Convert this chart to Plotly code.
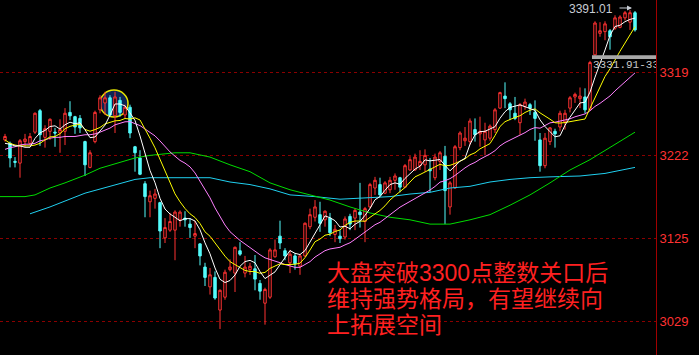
import plotly.graph_objects as go
import pandas as pd

# ---------------- data (prices) ----------------
opens = [3240, 3236, 3215, 3213, 3238, 3236, 3249, 3274, 3243, 3250,
         3249, 3248, 3250, 3272, 3267, 3265, 3238, 3208, 3238, 3275,
         3283, 3289, 3268, 3286, 3269, 3278, 3232, 3219, 3189, 3168,
         3172, 3167, 3126, 3135, 3135, 3147, 3149, 3142, 3128, 3119,
         3092, 3069, 3080, 3042, 3057, 3089, 3085, 3111, 3085, 3089,
         3090, 3073, 3050, 3057, 3104, 3128, 3111, 3097, 3105, 3093,
         3105, 3139, 3150, 3153, 3147, 3149, 3130, 3128, 3127, 3151,
         3149, 3156, 3145, 3162, 3184, 3188, 3178, 3182, 3193, 3196,
         3185, 3205, 3205, 3210, 3211, 3206, 3196, 3215, 3221, 3162,
         3184, 3231, 3239, 3238, 3252, 3247, 3240, 3242, 3252, 3277,
         3291, 3282, 3271, 3260, 3279, 3281, 3272, 3240, 3210, 3238,
         3250, 3255, 3261, 3277, 3290, 3288, 3290, 3275, 3339, 3364,
         3366, 3367, 3370, 3371, 3382, 3377, 3388]
highs = [3247, 3238, 3220, 3241, 3247, 3248, 3272, 3276, 3257, 3265,
         3254, 3264, 3277, 3285, 3268, 3269, 3239, 3228, 3274, 3292,
         3296, 3292, 3296, 3290, 3281, 3281, 3233, 3228, 3192, 3181,
         3183, 3168, 3149, 3155, 3158, 3158, 3157, 3149, 3146, 3120,
         3097, 3091, 3087, 3066, 3089, 3101, 3116, 3121, 3105, 3097,
         3106, 3077, 3068, 3114, 3124, 3146, 3114, 3112, 3108, 3107,
         3144, 3160, 3170, 3168, 3158, 3155, 3141, 3135, 3151, 3154,
         3160, 3190, 3162, 3190, 3197, 3196, 3192, 3197, 3201, 3197,
         3212, 3221, 3224, 3228, 3229, 3219, 3224, 3227, 3233, 3192,
         3234, 3250, 3255, 3265, 3265, 3267, 3260, 3258, 3277, 3296,
         3307, 3284, 3290, 3283, 3288, 3283, 3286, 3248, 3248, 3255,
         3253, 3274, 3275, 3291, 3295, 3301, 3300, 3332, 3378, 3377,
         3378, 3369, 3385, 3385, 3390, 3391.01, 3390]
lows = [3238, 3208, 3208, 3196, 3232, 3234, 3247, 3233, 3231, 3240,
        3232, 3225, 3234, 3263, 3247, 3248, 3198, 3207, 3236, 3271,
        3269, 3267, 3248, 3267, 3265, 3242, 3203, 3199, 3150, 3150,
        3160, 3114, 3120, 3133, 3100, 3139, 3139, 3126, 3114, 3094,
        3070, 3060, 3054, 3020, 3054, 3087, 3063, 3105, 3080, 3083,
        3065, 3054, 3025, 3055, 3103, 3113, 3100, 3085, 3089, 3083,
        3104, 3136, 3145, 3133, 3139, 3128, 3121, 3120, 3124, 3135,
        3135, 3138, 3121, 3160, 3176, 3174, 3177, 3178, 3182, 3179,
        3184, 3204, 3204, 3205, 3203, 3179, 3193, 3205, 3142, 3153,
        3183, 3228, 3233, 3234, 3238, 3232, 3222, 3239, 3248, 3276,
        3277, 3263, 3263, 3246, 3275, 3269, 3239, 3203, 3207, 3234,
        3231, 3250, 3252, 3272, 3283, 3277, 3271, 3274, 3338, 3360,
        3356, 3345, 3368, 3370, 3379, 3368, 3366]
closes = [3244, 3219, 3214, 3239, 3241, 3244, 3271, 3246, 3253, 3264,
          3248, 3252, 3271, 3268, 3255, 3254, 3211, 3225, 3272, 3289,
          3289, 3269, 3290, 3272, 3278, 3248, 3225, 3200, 3174, 3175,
          3177, 3134, 3138, 3145, 3156, 3156, 3147, 3138, 3131, 3105,
          3080, 3083, 3056, 3065, 3086, 3092, 3115, 3107, 3092, 3093,
          3078, 3064, 3066, 3112, 3112, 3120, 3105, 3107, 3096, 3105,
          3143, 3153, 3162, 3143, 3157, 3132, 3136, 3125, 3148, 3142,
          3158, 3153, 3160, 3188, 3193, 3176, 3190, 3193, 3198, 3185,
          3210, 3217, 3220, 3215, 3222, 3204, 3220, 3225, 3181, 3190,
          3232, 3248, 3242, 3262, 3246, 3250, 3250, 3256, 3275, 3295,
          3288, 3275, 3265, 3281, 3284, 3277, 3265, 3210, 3242, 3254,
          3247, 3271, 3271, 3289, 3293, 3291, 3275, 3330, 3376, 3367,
          3375, 3360, 3382, 3383, 3388, 3388, 3368]
idx = list(range(len(closes)))

# moving-average values visible before enough candles exist
ma5_head = [3236, 3235, 3233, 3233]
ma10_head = [3240, 3236, 3234, 3233, 3233, 3233, 3234, 3236, 3240]
ma20_head = [3229, 3231, 3232, 3234, 3235, 3235, 3236, 3239, 3240, 3242,
             3243, 3243, 3244, 3244, 3244, 3245, 3246, 3246, 3247]

# long moving averages (candle index, price)
ma60_x = [-1, 4, 6, 9, 12, 16, 19, 22, 26, 29, 34, 37, 41, 45, 49, 53, 57, 61,
          65, 69, 73, 77, 81, 85, 89, 93, 97, 101, 105, 109, 113, 117, 120, 126]
ma60_y = [3174, 3174, 3176, 3184, 3190, 3199, 3207, 3212, 3219, 3222, 3225,
          3225, 3220, 3211, 3203, 3190, 3182, 3176, 3170, 3162, 3155, 3150,
          3147, 3142, 3142, 3147, 3153, 3164, 3176, 3190, 3205, 3217, 3228, 3249]
ma120_x = [5, 9, 16, 21, 26, 29, 34, 41, 45, 49, 53, 57, 62, 67, 77, 81, 85,
           89, 93, 97, 101, 105, 109, 115, 120, 126]
ma120_y = [3154, 3162, 3178, 3186, 3194, 3196, 3196, 3196, 3191, 3188, 3183,
           3176, 3174, 3171, 3174, 3177, 3179, 3184, 3186, 3191, 3194, 3196,
           3197, 3198, 3201, 3208]

tick_vals = [3029, 3125, 3222, 3319]
tick_text = ["3029", "3125", "3222", "3319"]
high_label = "3391.01"
gap_label = "3331.91-33"
gap_low, gap_high = 3334, 3338.5
note_lines = ["大盘突破3300点整数关口后", "维持强势格局，有望继续向", "上拓展空间"]

# ---------------- derived ----------------
s = pd.Series(closes, dtype=float)
ma5 = ma5_head + s.rolling(5).mean().iloc[4:].round(2).tolist()
ma10 = ma10_head + s.rolling(10).mean().iloc[9:].round(2).tolist()
ma20 = ma20_head + s.rolling(20).mean().iloc[19:].round(2).tolist()

fig = go.Figure()
fig.add_trace(go.Candlestick(
    x=idx, open=opens, high=highs, low=lows, close=closes,
    increasing=dict(line=dict(color="#ff3232", width=1), fillcolor="#000000"),
    decreasing=dict(line=dict(color="#54fcfc", width=1), fillcolor="#54fcfc"),
    whiskerwidth=0, showlegend=False, hoverinfo="skip"))

for xs, ys, col in [(ma120_x, ma120_y, "#20d0f0"), (ma60_x, ma60_y, "#00dd00"),
                    (idx, ma20, "#ff80ff"), (idx, ma10, "#ffff00"), (idx, ma5, "#ffffff")]:
    fig.add_trace(go.Scatter(x=xs, y=ys, mode="lines", line=dict(color=col, width=1),
                             showlegend=False, hoverinfo="skip"))

fig.add_trace(go.Scatter(x=[117.6], y=[3327], mode="text", text=[gap_label],
                         textposition="middle right", cliponaxis=True,
                         textfont=dict(color="#c8c8c8", size=11, family="Liberation Mono"),
                         showlegend=False, hoverinfo="skip"))

shapes = [
    dict(type="circle", xref="x", yref="y", x0=19, x1=24.6, y0=3266.7, y1=3298.1,
         fillcolor="#0b2454", line=dict(color="#e8e800", width=1.5), layer="below"),
    dict(type="rect", xref="x", yref="y", x0=117.4, x1=130.2, y0=gap_low, y1=gap_high,
         fillcolor="#a8a8a8", line=dict(width=0), layer="above"),
]

annotations = [
    dict(x=122, y=3392.5, xref="x", yref="y", text=high_label, showarrow=False,
         xanchor="right", yanchor="middle",
         font=dict(color="#c8ccd4", size=12, family="Liberation Sans")),
    dict(x=125.4, y=3393.5, xref="x", yref="y", text="", showarrow=True,
         ax=-14, ay=0, arrowhead=2, arrowsize=1, arrowwidth=1, arrowcolor="#c8ccd4"),
]
for line, yc in zip(note_lines, [273, 299, 325]):
    annotations.append(dict(x=326 / 656, y=1 - yc / 355, xref="paper", yref="paper",
                            text=line, showarrow=False, xanchor="left", yanchor="middle",
                            borderpad=0,
                            font=dict(color="#ff2020", size=23,
                                      family="Liberation Sans, Noto Sans CJK SC")))

fig.update_layout(
    width=699, height=355, margin=dict(l=0, r=43, t=0, b=0),
    paper_bgcolor="#000000", plot_bgcolor="#000000", showlegend=False,
    xaxis=dict(range=[-1, 130.2], visible=False, rangeslider=dict(visible=False),
               showgrid=False, zeroline=False),
    yaxis=dict(side="right", range=[2989.7, 3402.8], tickvals=tick_vals, ticktext=tick_text,
               showgrid=True, gridcolor="#8a0000", griddash="dot", gridwidth=1,
               showline=True, linecolor="#a00000", linewidth=1, ticks="",
               tickfont=dict(color="#ff3232", size=13, family="Liberation Sans"),
               zeroline=False),
    shapes=shapes, annotations=annotations,
)
fig.write_html("out.html")
